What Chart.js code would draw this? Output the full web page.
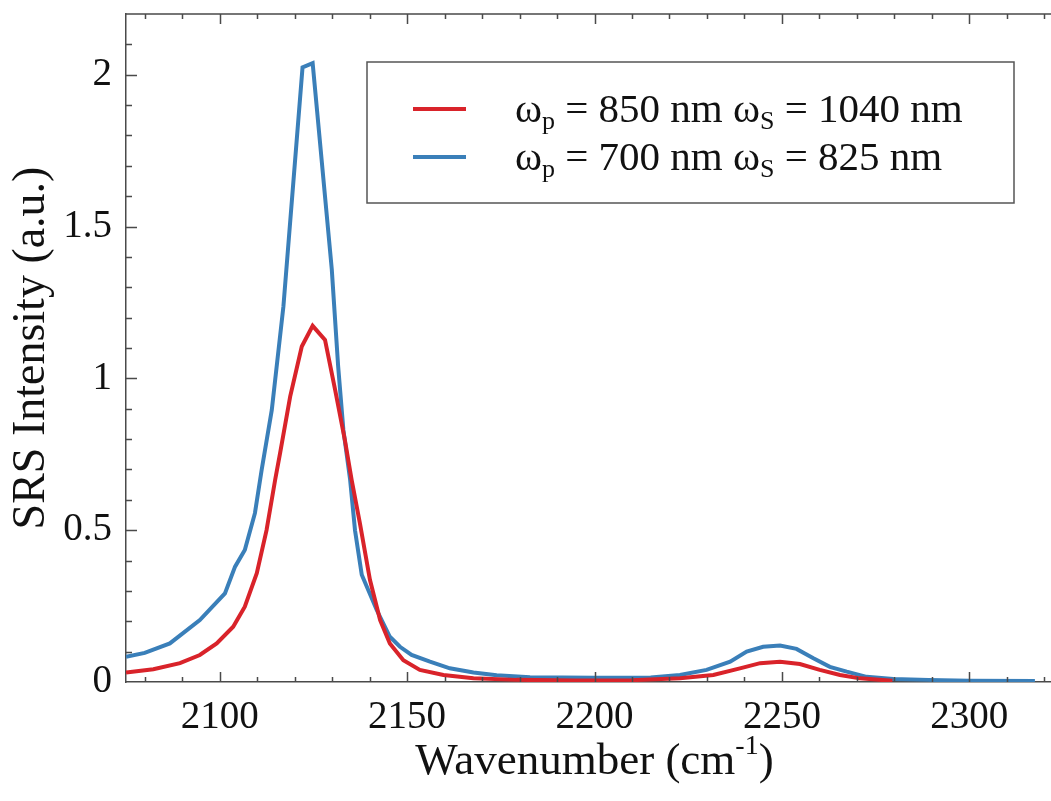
<!DOCTYPE html>
<html>
<head>
<meta charset="utf-8">
<title>SRS Intensity</title>
<script src="https://cdn.jsdelivr.net/npm/chart.js@4.4.1/dist/chart.umd.min.js"></script>
<style>
  html, body { margin: 0; padding: 0; background: #fff; overflow: hidden; }
  #wrap { position: relative; width: 1075px; height: 801px; }
</style>
</head>
<body>
<div id="wrap"><canvas id="canvasSRS"></canvas></div>
<script>
// series (wavenumber in cm-1, intensity in a.u.)
var xRed = [2075, 2082.3, 2089.4, 2094.7, 2099.2, 2103.6, 2106.7, 2109.9, 2112.5, 2114.8,
  2116.1, 2118.8, 2121.9, 2124.8, 2128.1, 2130.8, 2133.4, 2135.2, 2137.4, 2140.1,
  2142.8, 2145.4, 2149.0, 2153.4, 2159.7, 2167.7, 2179.2, 2195, 2210, 2222.8,
  2231.7, 2238.8, 2244.2, 2249.5, 2254.8, 2260.1, 2265.5, 2270.8, 2279.5];
var yRed = [0.031, 0.042, 0.062, 0.089, 0.127, 0.182, 0.248, 0.358, 0.50, 0.666,
  0.753, 0.94, 1.105, 1.173, 1.127, 0.962, 0.797, 0.666, 0.523, 0.336,
  0.204, 0.127, 0.072, 0.040, 0.023, 0.012, 0.007, 0.005, 0.006, 0.012,
  0.023, 0.045, 0.062, 0.067, 0.059, 0.040, 0.023, 0.012, 0.004];

var xBlue = [2075, 2080, 2086.7, 2094.7, 2101.4, 2104.1, 2106.7, 2109.4, 2111.2, 2113.9,
  2117.0, 2122.1, 2124.8, 2129.9, 2131.6, 2133.0, 2134.8, 2136.1, 2137.9, 2141.9,
  2145.4, 2148.1, 2151.2, 2156.1, 2161.4, 2167.7, 2173.9, 2182.8, 2200, 2215,
  2222.8, 2229.9, 2236.2, 2240.6, 2245.0, 2249.5, 2253.9, 2258.4, 2262.8, 2267.3,
  2272.6, 2279.7, 2289.1, 2300, 2317.5];
var yBlue = [0.083, 0.096, 0.127, 0.204, 0.292, 0.380, 0.435, 0.556, 0.699, 0.896,
  1.237, 2.024, 2.038, 1.36, 1.04, 0.83, 0.666, 0.50, 0.353, 0.237,
  0.149, 0.116, 0.089, 0.067, 0.045, 0.031, 0.022, 0.016, 0.014, 0.015,
  0.023, 0.040, 0.067, 0.100, 0.116, 0.120, 0.109, 0.078, 0.050, 0.034,
  0.017, 0.010, 0.007, 0.004, 0.003];

var xTickValues = [2100, 2150, 2200, 2250, 2300];
var yTickValues = [0, 0.5, 1, 1.5, 2];

var seriesNames = ['ωp = 850 nm ωS = 1040 nm', 'ωp = 700 nm ωS = 825 nm'];
// legend text split in [normal, subscript] pieces
var legendParts = [
  [['ω', 'p'], [' = 850 nm ω', 'S'], [' = 1040 nm', '']],
  [['ω', 'p'], [' = 700 nm ω', 'S'], [' = 825 nm', '']]
];
var seriesColors = ['#d9232a', '#3a7fb9'];

var FONT = "'Liberation Serif', 'Times New Roman', serif";
var AXIS = '#4a4a4a';

function pairs(xs, ys) {
  var out = [];
  for (var i = 0; i < xs.length; i++) out.push({x: xs[i], y: ys[i]});
  return out;
}

// inward ticks on all four sides + top/right frame
var frameTicks = {
  id: 'frameTicks',
  afterDraw: function(chart) {
    var ctx = chart.ctx, a = chart.chartArea;
    var sx = chart.scales.x, sy = chart.scales.y;
    ctx.save();
    ctx.strokeStyle = AXIS;
    ctx.lineWidth = 1.5;
    ctx.beginPath();
    ctx.moveTo(a.left, a.top);
    ctx.lineTo(a.right, a.top);
    ctx.lineTo(a.right, a.bottom);
    ctx.stroke();

    ctx.beginPath();
    for (var v = Math.ceil(sx.min / 10) * 10; v <= sx.max; v += 10) {
      var px = Math.round(sx.getPixelForValue(v)) + 0.5;
      var len = (v % 50 === 0) ? 10 : 5;
      ctx.moveTo(px, a.bottom); ctx.lineTo(px, a.bottom - len);
      ctx.moveTo(px, a.top); ctx.lineTo(px, a.top + len);
    }
    for (var k = 1; k * 0.1 < sy.max - 1e-9; k++) {
      var py = Math.round(sy.getPixelForValue(k / 10)) + 0.5;
      var ylen = (k % 5 === 0) ? 11 : 6;
      ctx.moveTo(a.left, py); ctx.lineTo(a.left + ylen, py);
      ctx.moveTo(a.right, py); ctx.lineTo(a.right - ylen, py);
    }
    ctx.stroke();
    ctx.restore();
  }
};

// boxed legend with subscripts
var boxLegend = {
  id: 'boxLegend',
  afterDraw: function(chart) {
    var ctx = chart.ctx, a = chart.chartArea;
    var bx = a.left + 241, by = a.top + 48, bw = 647, bh = 141;
    ctx.save();
    ctx.fillStyle = '#fff';
    ctx.fillRect(bx, by, bw, bh);
    ctx.strokeStyle = '#555';
    ctx.lineWidth = 1.5;
    ctx.strokeRect(bx, by, bw, bh);
    for (var i = 0; i < legendParts.length; i++) {
      var base = by + 60 + i * 48;
      ctx.strokeStyle = seriesColors[i];
      ctx.lineWidth = 4;
      ctx.beginPath();
      ctx.moveTo(bx + 46, base - 13);
      ctx.lineTo(bx + 99, base - 13);
      ctx.stroke();
      var tx = bx + 148;
      ctx.fillStyle = '#111';
      ctx.textBaseline = 'alphabetic';
      ctx.textAlign = 'left';
      legendParts[i].forEach(function(p) {
        ctx.font = '41px ' + FONT;
        ctx.fillText(p[0], tx, base);
        tx += ctx.measureText(p[0]).width;
        if (p[1]) {
          ctx.font = '26px ' + FONT;
          ctx.fillText(p[1], tx, base + 7);
          tx += ctx.measureText(p[1]).width;
        }
      });
    }
    ctx.restore();
  }
};

// x axis title with superscript
var xTitle = {
  id: 'xTitle',
  afterDraw: function(chart) {
    var ctx = chart.ctx, a = chart.chartArea;
    var main = 'Wavenumber (cm', sup = '-1', close = ')';
    ctx.save();
    ctx.fillStyle = '#111';
    ctx.textBaseline = 'alphabetic';
    ctx.textAlign = 'left';
    ctx.font = '45px ' + FONT;
    var w1 = ctx.measureText(main).width, w3 = ctx.measureText(close).width;
    ctx.font = '28px ' + FONT;
    var w2 = ctx.measureText(sup).width;
    var x = (a.left + a.right) / 2 - (w1 + w2 + w3) / 2;
    var base = a.bottom + 92;
    ctx.font = '45px ' + FONT;
    ctx.fillText(main, x, base);
    ctx.font = '28px ' + FONT;
    ctx.fillText(sup, x + w1, base - 20);
    ctx.font = '45px ' + FONT;
    ctx.fillText(close, x + w1 + w2, base);
    ctx.restore();
  }
};

var ctx = document.getElementById('canvasSRS').getContext('2d');
window.srsChart = new Chart(ctx, {
  type: 'line',
  data: {
    datasets: [
      {
        label: seriesNames[0],
        data: pairs(xRed, yRed),
        borderColor: seriesColors[0],
        borderWidth: 4,
        pointRadius: 0,
        tension: 0,
        fill: false
      },
      {
        label: seriesNames[1],
        data: pairs(xBlue, yBlue),
        borderColor: seriesColors[1],
        borderWidth: 4,
        pointRadius: 0,
        tension: 0,
        fill: false
      }
    ]
  },
  options: {
    responsive: true,
    maintainAspectRatio: false,
    animation: false,
    layout: { padding: { left: 0, right: 12, top: 14, bottom: 0 } },
    plugins: {
      legend: { display: false },
      tooltip: { enabled: false }
    },
    scales: {
      x: {
        type: 'linear',
        min: 2075,
        max: 2325,
        grid: { display: false, drawTicks: false },
        border: { display: true, color: AXIS, width: 1.5 },
        afterBuildTicks: function(s) { s.ticks = xTickValues.map(function(v) { return {value: v}; }); },
        afterFit: function(s) { s.height = 119; s.paddingLeft = 0; s.paddingRight = 0; },
        ticks: {
          autoSkip: false,
          maxRotation: 0,
          padding: 12,
          color: '#111',
          font: { family: FONT, size: 39 },
          callback: function(v) { return String(v); }
        }
      },
      y: {
        type: 'linear',
        min: 0,
        max: 2.2,
        grid: { display: false, drawTicks: false },
        border: { display: true, color: AXIS, width: 1.5 },
        afterBuildTicks: function(s) { s.ticks = yTickValues.map(function(v) { return {value: v}; }); },
        afterFit: function(s) { s.width = 126; s.paddingTop = 0; s.paddingBottom = 0; },
        ticks: {
          padding: 14,
          color: '#111',
          font: { family: FONT, size: 39 },
          callback: function(v) { return String(v); }
        },
        title: {
          display: true,
          text: 'SRS Intensity (a.u.)',
          color: '#111',
          font: { family: FONT, size: 46, lineHeight: 1 },
          padding: { top: 9, bottom: 0 }
        }
      }
    }
  },
  plugins: [frameTicks, boxLegend, xTitle]
});
</script>
</body>
</html>
